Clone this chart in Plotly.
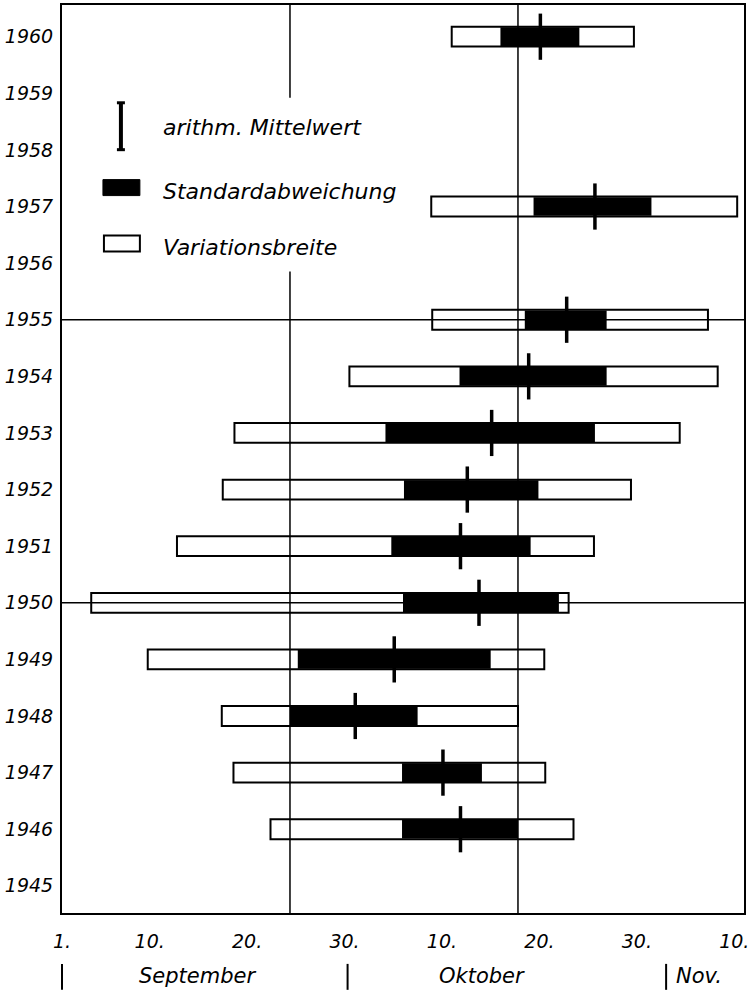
import plotly.graph_objects as go

# ---- data (day index: 1 = 1 September, 31 = 1 October, 62 = 1 November) ----
years = [1946, 1947, 1948, 1949, 1950, 1951, 1952, 1953, 1954, 1955, 1957, 1960]
range_min = [22.4, 18.6, 17.4, 9.8, 4.0, 12.8, 17.5, 18.7, 30.5, 39.0, 38.9, 41.0]
range_max = [53.5, 50.6, 47.8, 50.5, 53.0, 55.6, 59.4, 64.4, 68.3, 67.3, 70.3, 59.7]
sd_low = [35.9, 35.9, 24.4, 25.2, 36.0, 34.8, 36.1, 34.2, 41.8, 48.5, 49.4, 46.0]
sd_high = [47.8, 44.1, 37.5, 45.0, 52.0, 49.1, 49.9, 55.7, 56.9, 56.9, 61.5, 54.1]
mean_day = [41.9, 40.1, 31.1, 35.1, 43.8, 41.9, 42.6, 45.1, 48.9, 52.8, 55.7, 50.1]

year_ticks = list(range(1945, 1961))
x_tickvals = [1, 10, 20, 30, 40, 50, 60, 70]
x_ticktext = ["1.", "10.", "20.", "30.", "10.", "20.", "30.", "10."]
grid_x = [24.4, 47.8]
grid_y = [1950, 1955]
months = ["September", "Oktober", "Nov."]
legend_labels = ["arithm. Mittelwert", "Standardabweichung", "Variationsbreite"]

FONT = "DejaVu Sans"
BAR_W = 0.35

fig = go.Figure()

# Variationsbreite (outlined range bar)
fig.add_trace(go.Bar(
    y=years, x=[b - a for a, b in zip(range_min, range_max)], base=range_min,
    orientation="h", width=BAR_W,
    marker=dict(color="rgba(0,0,0,0)", line=dict(color="black", width=2)),
    showlegend=False, hoverinfo="skip",
))
# Standardabweichung (black bar)
fig.add_trace(go.Bar(
    y=years, x=[b - a for a, b in zip(sd_low, sd_high)], base=sd_low,
    orientation="h", width=BAR_W - 0.02,
    marker=dict(color="black", line=dict(width=0)),
    showlegend=False, hoverinfo="skip",
))
# arithm. Mittelwert (vertical tick)
fig.add_trace(go.Scatter(
    y=years, x=mean_day, mode="markers",
    marker=dict(symbol="line-ns", size=33, line=dict(color="black", width=3.5)),
    showlegend=False, hoverinfo="skip",
))

shapes = []
for gx in grid_x:
    shapes.append(dict(type="line", xref="x", yref="paper", x0=gx, x1=gx, y0=0, y1=1,
                       line=dict(color="black", width=1.5), layer="below"))
for gy in grid_y:
    shapes.append(dict(type="line", xref="paper", yref="y", x0=0, x1=1, y0=gy, y1=gy,
                       line=dict(color="black", width=1.5), layer="below"))

# legend area (masks the grid line), in paper coords of plot area 62..745 x 3..913
def px(xp):
    return (xp - 62) / 683.0

def py(yp):
    return (913 - yp) / 910.0

shapes.append(dict(type="rect", xref="paper", yref="paper", x0=px(95), x1=px(400),
                   y0=py(270), y1=py(96), fillcolor="white", line=dict(width=0), layer="below"))
# mean symbol (I)
shapes.append(dict(type="line", xref="paper", yref="paper", x0=px(121), x1=px(121),
                   y0=py(148), y1=py(101), line=dict(color="black", width=4)))
for yy in (101, 148):
    shapes.append(dict(type="line", xref="paper", yref="paper", x0=px(117), x1=px(125),
                       y0=py(yy), y1=py(yy), line=dict(color="black", width=3)))
# SD symbol
shapes.append(dict(type="rect", xref="paper", yref="paper", x0=px(103), x1=px(140),
                   y0=py(194), y1=py(178), fillcolor="black", line=dict(color="black", width=1)))
# range symbol
shapes.append(dict(type="rect", xref="paper", yref="paper", x0=px(104), x1=px(140),
                   y0=py(250), y1=py(234), fillcolor="white", line=dict(color="black", width=2)))
# month dividers below the axis
for xp in (62, 348, 667):
    shapes.append(dict(type="line", xref="paper", yref="paper", x0=px(xp), x1=px(xp),
                       y0=py(964), y1=py(990), line=dict(color="black", width=2)))

annotations = []
for lbl, yp in zip(legend_labels, (126, 190, 246)):
    annotations.append(dict(text=lbl, xref="paper", yref="paper", x=px(161), y=py(yp),
                            xanchor="left", yanchor="middle", showarrow=False,
                            font=dict(family=FONT, size=22, color="black", style="italic")))
for lbl, xp, anchor in zip(months, (198, 483, 675), ("center", "center", "left")):
    annotations.append(dict(text=lbl, xref="paper", yref="paper", x=px(xp), y=py(976),
                            xanchor=anchor, yanchor="middle", showarrow=False,
                            font=dict(family=FONT, size=21, color="black", style="italic")))

fig.update_layout(
    width=752, height=994,
    margin=dict(l=62, r=7, t=3, b=81),
    paper_bgcolor="white", plot_bgcolor="white",
    barmode="overlay",
    shapes=shapes, annotations=annotations,
    xaxis=dict(range=[1, 71], tickvals=x_tickvals, ticktext=x_ticktext,
               showgrid=False, zeroline=False, showline=True, mirror=True,
               linecolor="black", linewidth=2, ticks="",
               tickfont=dict(family=FONT, size=19, color="black", style="italic"),
               ticklabelstandoff=10),
    yaxis=dict(range=[1944.52, 1960.56], tickvals=year_ticks,
               ticktext=[str(y) for y in year_ticks],
               showgrid=False, zeroline=False, showline=True, mirror=True,
               linecolor="black", linewidth=2, ticks="",
               tickfont=dict(family=FONT, size=19, color="black", style="italic"),
               ticklabelstandoff=3),
    font=dict(family=FONT, color="black"),
)

fig.write_html("out.html",
               config={"displayModeBar": False},
               post_script="document.body.style.margin='0';document.body.style.overflow='hidden';")
